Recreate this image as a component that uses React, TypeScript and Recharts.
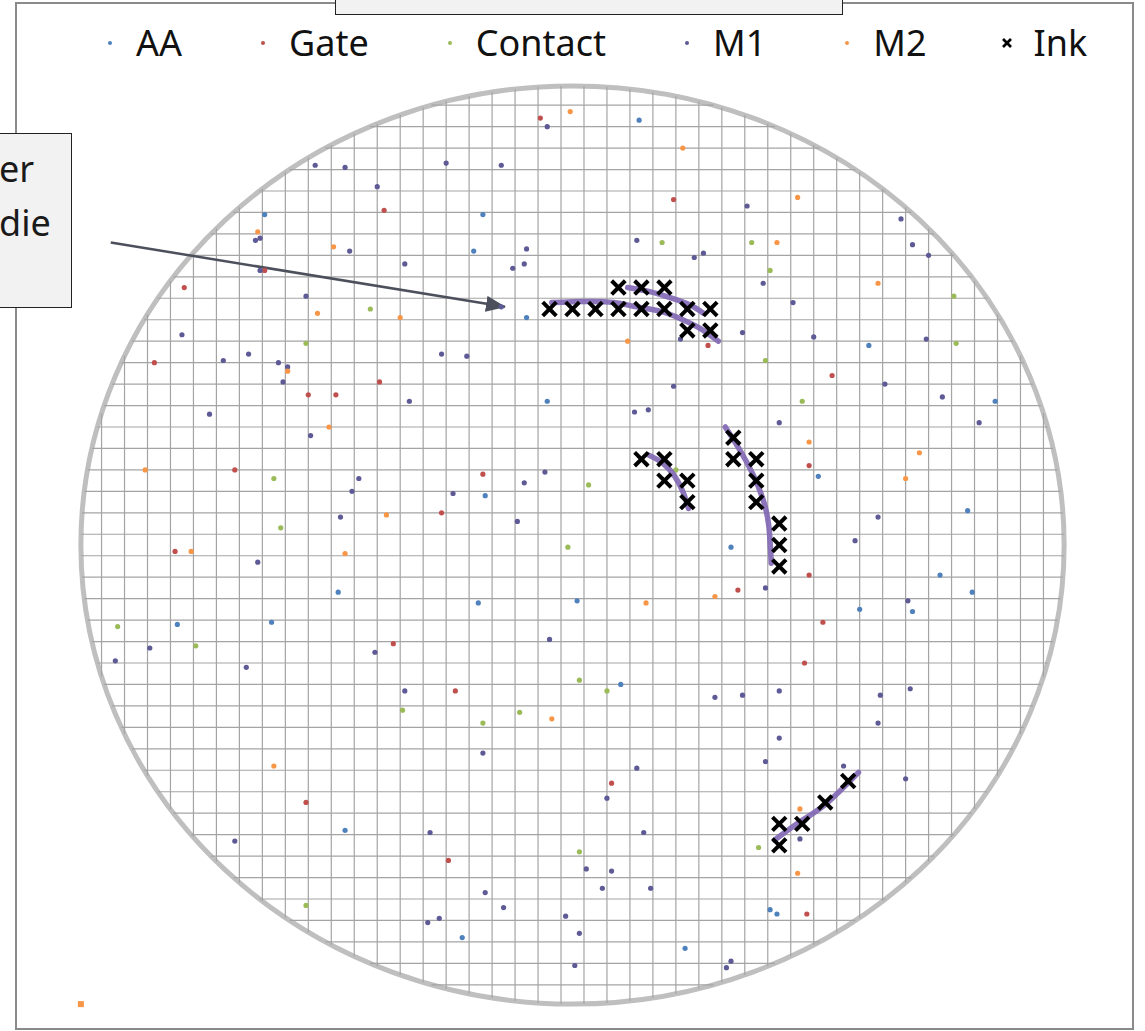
import React from 'react';
import {
  ScatterChart,
  Scatter,
  XAxis,
  YAxis,
  ReferenceArea,
  ReferenceLine,
  Legend,
} from 'recharts';

const FONT = '"Noto Sans", "Open Sans", sans-serif';

// die centres sit on whole numbers, the die grid on the half steps
const gridTicks = [
  -20.5, -19.5, -18.5, -17.5, -16.5, -15.5, -14.5, -13.5, -12.5, -11.5, -10.5,
  -9.5, -8.5, -7.5, -6.5, -5.5, -4.5, -3.5, -2.5, -1.5, -0.5,
  0.5, 1.5, 2.5, 3.5, 4.5, 5.5, 6.5, 7.5, 8.5, 9.5,
  10.5, 11.5, 12.5, 13.5, 14.5, 15.5, 16.5, 17.5, 18.5, 19.5, 20.5,
];
const waferRadius = 21.4;

// defect points per layer, [x, y] in die units
const aaPoints: [number, number][] = [
  [-13.4, 15.4], [-3.9, 15.4], [-4.3, 13.7], [-2.0, 10.6], [2.9, 19.8], [12.9, 9.3],
  [18.4, 6.7], [-1.1, 6.7], [10.7, 3.2], [6.9, -0.1], [17.2, 1.6], [16.0, -1.4],
  [17.4, -2.2], [12.5, -3.0], [14.8, -3.1], [-3.8, 2.3], [-10.2, -2.2], [-4.1, -2.7],
  [0.2, -2.6], [-17.2, -3.7], [-13.1, -3.6], [2.1, -6.5], [-9.9, -13.3], [4.9, -18.8],
  [8.6, -17.0], [8.9, -17.2], [-4.8, -18.3],
];
const gatePoints: [number, number][] = [
  [-1.4, 19.9], [-8.2, 15.6], [-13.4, 12.8], [-16.9, 12.0], [-18.2, 8.5], [-8.4, 7.6],
  [-11.5, 7.0], [-10.3, 7.0], [4.4, 16.1], [5.9, 9.3], [11.3, 7.9], [10.3, 3.7],
  [10.3, -1.4], [10.9, -3.6], [10.1, -5.5], [7.2, -2.1], [-17.3, -0.3], [-14.7, 3.5],
  [-5.7, 1.5], [-3.9, 3.3], [-7.8, -4.6], [-5.1, -6.8], [-11.6, -12.0], [-5.4, -14.7],
  [10.2, -17.2], [1.7, -11.1],
];
const contactPoints: [number, number][] = [
  [-8.8, 11.0], [-11.6, 9.4], [3.9, 14.1], [7.8, 14.1], [8.6, 12.8], [16.6, 11.6],
  [16.7, 9.4], [8.4, 8.6], [10.0, 6.7], [4.5, 3.5], [-13.0, 3.1], [-12.7, 0.8],
  [0.7, 2.8], [-0.2, -0.1], [-19.8, -3.8], [-16.4, -4.7], [-7.4, -7.7], [-3.9, -8.3],
  [-2.3, -7.8], [0.3, -6.3], [1.5, -6.8], [8.1, -14.1], [-11.6, -16.8], [0.3, -14.3],
];
const m1Points: [number, number][] = [
  [-1.1, 19.5], [-11.2, 17.7], [-9.9, 17.6], [-5.5, 17.8], [-3.1, 17.7], [-8.5, 16.7],
  [-13.8, 14.2], [-13.6, 14.3], [-9.7, 13.7], [-2.0, 13.8], [-7.3, 13.1], [-2.1, 13.1],
  [-2.6, 12.9], [-13.6, 12.8], [-11.6, 11.6], [-3.1, 11.1], [-17.0, 9.8], [-15.2, 8.6],
  [-14.1, 8.9], [-12.8, 8.5], [-12.4, 8.3], [-12.6, 7.6], [-5.7, 8.9], [-4.6, 8.8],
  [-7.1, 6.7], [-15.8, 6.1], [-11.4, 5.1], [7.6, 15.8], [14.3, 15.2], [2.8, 14.2],
  [5.3, 13.4], [5.7, 13.6], [14.8, 14.0], [15.5, 13.5], [8.3, 12.2], [9.6, 11.3],
  [7.4, 9.9], [10.5, 9.7], [15.4, 9.6], [4.7, 9.6], [4.4, 7.4], [13.6, 7.5],
  [16.1, 6.9], [17.7, 5.7], [2.7, 6.2], [3.3, 6.3], [9.0, 5.7], [13.3, 1.3],
  [12.3, 0.2], [14.6, -2.6], [8.4, -2.0], [-9.3, 3.1], [-9.6, 2.5], [-10.1, 1.3],
  [-5.2, 2.4], [-2.1, 2.9], [-1.2, 3.4], [-2.4, 1.1], [-13.7, -0.8], [-19.9, -5.4],
  [-18.4, -4.8], [-14.2, -5.7], [-8.6, -5.0], [-1.0, -4.4], [-7.3, -6.8], [6.2, -7.1],
  [7.4, -7.0], [9.0, -6.8], [13.4, -7.0], [14.7, -6.7], [13.3, -8.3], [9.0, -9.0],
  [8.4, -10.1], [11.8, -10.3], [14.5, -10.9], [-3.9, -9.7], [1.5, -11.8], [2.8, -10.4],
  [3.1, -13.4], [9.9, -13.7], [-14.7, -13.8], [-6.2, -13.4], [0.6, -15.1], [1.7, -15.2],
  [1.3, -16.0], [3.4, -16.0], [-3.8, -16.2], [-3.0, -16.9], [-0.3, -17.3], [0.3, -18.1],
  [0.1, -19.6], [-6.3, -17.6], [-5.8, -17.4], [6.7, -19.7], [6.9, -19.4],
];
const m2Points: [number, number][] = [
  [-0.1, 20.2], [4.8, 18.5], [9.8, 16.2], [-13.7, 14.6], [-10.4, 13.9], [8.9, 14.1],
  [-11.1, 10.8], [-7.5, 10.6], [13.3, 12.2], [2.4, 9.5], [-12.4, 8.1], [-10.6, 5.5],
  [10.3, 4.8], [15.1, 4.3], [14.5, 3.1], [-18.6, 3.5], [-8.1, 1.4], [-16.6, -0.3],
  [-9.9, -0.4], [3.2, -2.7], [6.2, -2.4], [-0.9, -8.1], [-13.0, -10.3], [9.9, -12.3],
  [9.8, -15.3],
];
// inked dies
const inkPoints: [number, number][] = [
  [2, 12], [3, 12], [4, 12],
  [-1, 11], [0, 11], [1, 11], [2, 11], [3, 11], [4, 11], [5, 11], [6, 11],
  [5, 10], [6, 10],
  [3, 4], [4, 4], [4, 3], [5, 3], [5, 2],
  [7, 5], [7, 4], [8, 4], [8, 3], [8, 2], [9, 1], [9, 0], [9, -1],
  [12, -11], [11, -12], [9, -13], [10, -13], [9, -14],
];
// scratch traces
const scratchA: [number, number][] = [
  [-0.9, 11.3], [0.6, 11.35], [1.8, 11.3], [2.8, 11.1], [3.8, 10.9], [4.7, 10.55], [5.55, 10.1], [6.35, 9.5],
];
const scratchB: [number, number][] = [
  [2.4, 12.0], [3.4, 11.8], [4.2, 11.55], [5.1, 11.2], [5.7, 10.8],
];
const scratchC: [number, number][] = [
  [3.3, 4.2], [3.95, 3.8], [4.45, 3.2], [4.8, 2.5], [5.05, 1.7],
];
const scratchD: [number, number][] = [
  [6.65, 5.5], [7.3, 4.4], [7.85, 3.3], [8.3, 2.1], [8.55, 0.85], [8.65, -0.85],
];
const scratchE: [number, number][] = [
  [8.8, -13.75], [9.9, -12.9], [11.05, -12.05], [12.45, -10.6],
];
// corner point that pins the axes
const boundPoints: [number, number][] = [[-21.4, -21.4]];

// arrow of the callout
const calloutArrow: [number, number][] = [[-20.1, 14.1], [-2.94, 11.1]];

const layers = [
  { name: 'AA', color: '#4f81bd', points: aaPoints },
  { name: 'Gate', color: '#c0504d', points: gatePoints },
  { name: 'Contact', color: '#9bbb59', points: contactPoints },
  { name: 'M1', color: '#5d5a96', points: m1Points },
  { name: 'M2', color: '#f79646', points: m2Points },
];
const scratches = [scratchA, scratchB, scratchC, scratchD, scratchE];
const SCRATCH = '#8066b2';
const GRID = '#a4a4a4';

const toXY = (pts: [number, number][]) => pts.map(([x, y]) => ({ x, y }));

// die grid lines stop at the wafer edge
const halfChord = (t: number) => Math.sqrt(waferRadius * waferRadius - t * t);

const dotShape = (color: string) => (p: any) => (
  <circle cx={p.cx} cy={p.cy} r={2.6} fill={color} />
);

const InkShape = (p: any) => {
  const h = 6.8;
  return (
    <g stroke="#000" strokeWidth={4}>
      <line x1={p.cx - h} y1={p.cy - h} x2={p.cx + h} y2={p.cy + h} />
      <line x1={p.cx - h} y1={p.cy + h} x2={p.cx + h} y2={p.cy - h} />
    </g>
  );
};

const SquareShape = (p: any) => (
  <rect x={p.cx - 3} y={p.cy - 3} width={6} height={6} fill="#f79646" />
);

const emptyShape = () => <g />;

// wafer outline; also holds the arrow head marker
const WaferOutline = (p: any) => (
  <g>
    <defs>
      <marker
        id="arrowHead"
        markerUnits="userSpaceOnUse"
        markerWidth={20}
        markerHeight={16}
        refX={19}
        refY={8}
        orient="auto"
      >
        <path d="M0,0 L20,8 L0,16 z" fill="#4b505c" />
      </marker>
    </defs>
    <ellipse
      cx={p.x + p.width / 2}
      cy={p.y + p.height / 2}
      rx={p.width / 2}
      ry={p.height / 2}
      fill="none"
      stroke="#bfbfbf"
      strokeWidth={5}
    />
  </g>
);

const renderLegend = () => (
  <div
    style={{
      display: 'flex',
      alignItems: 'center',
      paddingLeft: 105,
      fontFamily: FONT,
      fontSize: 36,
      lineHeight: '49px',
      color: '#111',
    }}
  >
    {layers.map((l) => (
      <div key={l.name} style={{ display: 'flex', alignItems: 'center', marginRight: 76 }}>
        <svg width={10} height={10} style={{ marginRight: 21 }}>
          <circle cx={5} cy={5} r={2} fill={l.color} />
        </svg>
        <span>{l.name}</span>
      </div>
    ))}
    <div style={{ display: 'flex', alignItems: 'center' }}>
      <svg width={10} height={10} style={{ marginRight: 21 }}>
        <g stroke="#000" strokeWidth={2.6}>
          <line x1={1} y1={1} x2={9} y2={9} />
          <line x1={1} y1={9} x2={9} y2={1} />
        </g>
      </svg>
      <span>Ink</span>
    </div>
  </div>
);

export default function App() {
  return (
    <div
      style={{
        position: 'absolute',
        left: 0,
        top: 0,
        width: 1145,
        height: 1031,
        overflow: 'hidden',
        background: '#fff',
        fontFamily: FONT,
      }}
    >
      {/* chart frame */}
      <div
        style={{
          position: 'absolute',
          left: 15,
          top: 2,
          width: 1119,
          height: 1028,
          border: '2.5px solid #8a8a8a',
          boxSizing: 'border-box',
        }}
      />

      <div style={{ position: 'absolute', left: 0, top: 0 }}>
        <ScatterChart width={1145} height={1031} margin={{ top: 70, right: 20, bottom: 11, left: 20 }}>
          <XAxis
            type="number"
            dataKey="x"
            domain={[-24.05, 24.05]}
            ticks={gridTicks}
            allowDataOverflow
            axisLine={false}
            tickLine={false}
            tick={false}
            height={0}
          />
          <YAxis
            type="number"
            dataKey="y"
            domain={[-22.14, 22.14]}
            ticks={gridTicks}
            allowDataOverflow
            axisLine={false}
            tickLine={false}
            tick={false}
            width={0}
          />

          {gridTicks.map((t) => (
            <ReferenceLine
              key={'v' + t}
              segment={[{ x: t, y: -halfChord(t) }, { x: t, y: halfChord(t) }]}
              stroke={GRID}
              strokeWidth={1.2}
            />
          ))}
          {gridTicks.map((t) => (
            <ReferenceLine
              key={'h' + t}
              segment={[{ x: -halfChord(t), y: t }, { x: halfChord(t), y: t }]}
              stroke={GRID}
              strokeWidth={1.2}
            />
          ))}

          <ReferenceArea
            x1={-waferRadius}
            x2={waferRadius}
            y1={-waferRadius}
            y2={waferRadius}
            ifOverflow="visible"
            shape={WaferOutline}
          />
          <Legend
            verticalAlign="middle"
            align="center"
            layout="horizontal"
            wrapperStyle={{ left: 0, top: 18, width: 1145 }}
            content={renderLegend}
          />

          {layers.map((l) => (
            <Scatter
              key={l.name}
              name={l.name}
              data={toXY(l.points)}
              fill={l.color}
              shape={dotShape(l.color)}
              isAnimationActive={false}
            />
          ))}

          {scratches.map((s, i) => (
            <Scatter
              key={'scratch' + i}
              data={toXY(s)}
              fill={SCRATCH}
              line={{ stroke: SCRATCH, strokeWidth: 5.5, strokeLinecap: 'round', strokeOpacity: 0.9 }}
              lineJointType="natural"
              shape={emptyShape}
              legendType="none"
              isAnimationActive={false}
            />
          ))}

          <Scatter
            name="Ink"
            data={toXY(inkPoints)}
            fill="#000"
            shape={InkShape}
            isAnimationActive={false}
          />
          <Scatter
            data={toXY(boundPoints)}
            fill="#f79646"
            shape={SquareShape}
            legendType="none"
            isAnimationActive={false}
          />

          <ReferenceLine
            segment={toXY(calloutArrow)}
            stroke="#4b505c"
            strokeWidth={2.5}
            ifOverflow="visible"
            markerEnd="url(#arrowHead)"
          />
        </ScatterChart>
      </div>

      {/* title box, mostly cut off at the top */}
      <div
        style={{
          position: 'absolute',
          left: 335,
          top: -3,
          width: 508,
          height: 18,
          background: '#f2f2f2',
          border: '1.5px solid #222',
          boxSizing: 'border-box',
        }}
      />

      {/* callout box, cut off at the left */}
      <div
        style={{
          position: 'absolute',
          left: -3,
          top: 133,
          width: 75,
          height: 175,
          background: '#f2f2f2',
          border: '1.5px solid #222',
          boxSizing: 'border-box',
          fontSize: 36,
          lineHeight: '49px',
          color: '#1a1a1a',
        }}
      >
        <div style={{ position: 'absolute', left: 1, top: 10 }}>er</div>
        <div style={{ position: 'absolute', left: 1, top: 64 }}>die</div>
      </div>
    </div>
  );
}
